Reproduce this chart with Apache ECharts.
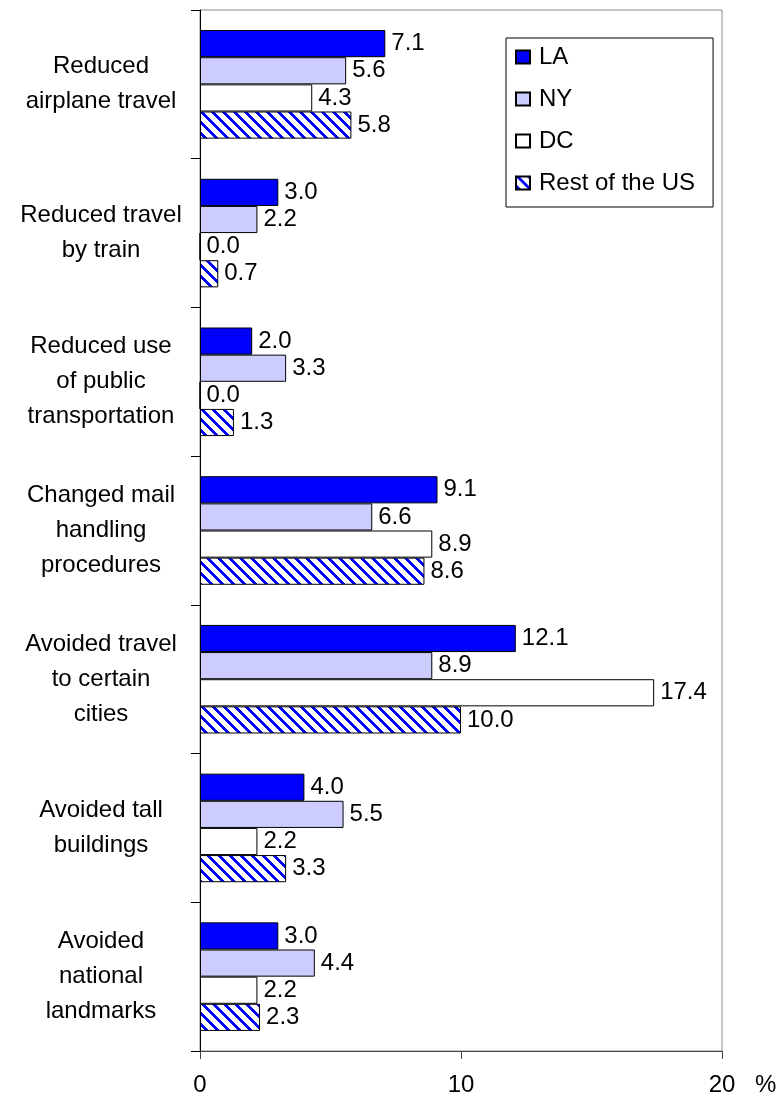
<!DOCTYPE html>
<html>
<head>
<meta charset="utf-8">
<script src="https://cdn.jsdelivr.net/npm/echarts@6/dist/echarts.min.js"></script>
<style>
  html, body { margin: 0; padding: 0; background: #fff; }
  #chart { width: 778px; height: 1102px; }
</style>
</head>
<body>
<div id="chart"></div>
<script>
var categories = [
  'Reduced\nairplane travel',
  'Reduced travel\nby train',
  'Reduced use\nof public\ntransportation',
  'Changed mail\nhandling\nprocedures',
  'Avoided travel\nto certain\ncities',
  'Avoided tall\nbuildings',
  'Avoided\nnational\nlandmarks'
];
var seriesNames = ['LA', 'NY', 'DC', 'Rest of the US'];
var laValues = [7.1, 3.0, 2.0, 9.1, 12.1, 4.0, 3.0];
var nyValues = [5.6, 2.2, 3.3, 6.6, 8.9, 5.5, 4.4];
var dcValues = [4.3, 0.0, 0.0, 8.9, 17.4, 2.2, 2.2];
var restValues = [5.8, 0.7, 1.3, 8.6, 10.0, 3.3, 2.3];
var xTicks = [0, 10, 20];

// diagonal hatch for "Rest of the US"
function makeHatch() {
  var p = 11, w = 4;
  var c = document.createElement('canvas');
  c.width = p; c.height = p;
  var ctx = c.getContext('2d');
  var img = ctx.createImageData(p, p);
  for (var y = 0; y < p; y++) {
    for (var x = 0; x < p; x++) {
      var i = (y * p + x) * 4;
      var blue = ((x - y) % p + p) % p < w;
      img.data[i] = blue ? 0 : 255;
      img.data[i + 1] = blue ? 0 : 255;
      img.data[i + 2] = 255;
      img.data[i + 3] = 255;
    }
  }
  ctx.putImageData(img, 0, 0);
  return c;
}

var font = 'Liberation Sans, Arial, sans-serif';
var fs = 24;
var fills = ['#0000ff', '#ccccff', '#ffffff', { image: makeHatch(), repeat: 'repeat' }];
var dataSets = [laValues, nyValues, dcValues, restValues];

var myChart = echarts.init(document.getElementById('chart'));

var series = dataSets.map(function (vals, k) {
  return {
    name: seriesNames[k],
    type: 'bar',
    data: vals,
    barGap: '0%',
    barCategoryGap: '27%',
    itemStyle: { color: fills[k], borderColor: '#000', borderWidth: 1 },
    label: {
      show: true,
      position: 'right',
      distance: 6,
      color: '#000',
      fontSize: fs,
      fontFamily: font,
      formatter: function (p) { return p.value.toFixed(1); }
    }
  };
});

var option = {
  animation: false,
  grid: {
    left: 200, right: 56, top: 10, bottom: 51,
    outerBoundsMode: 'none',
    show: true, borderColor: '#8c8c8c', borderWidth: 1, backgroundColor: '#fff'
  },
  legend: {
    orient: 'vertical',
    left: 506, top: 38,
    data: seriesNames,
    icon: 'rect',
    itemWidth: 14, itemHeight: 13,
    itemGap: 18,
    padding: [7, 18, 12, 9],
    borderColor: '#000', borderWidth: 1, backgroundColor: '#fff',
    textStyle: { fontSize: fs, fontFamily: font, color: '#000', lineHeight: 24, padding: [0, 0, 0, 4] }
  },
  xAxis: {
    type: 'value',
    min: xTicks[0], max: xTicks[xTicks.length - 1], interval: 10,
    name: '%',
    nameLocation: 'end',
    nameGap: 33,
    nameTextStyle: { fontSize: fs, fontFamily: font, color: '#000', verticalAlign: 'top', padding: [22, 0, 0, 0] },
    axisLine: { show: true, lineStyle: { color: '#444', width: 1 } },
    axisTick: { show: true, length: 8, lineStyle: { color: '#444' } },
    axisLabel: { fontSize: fs, fontFamily: font, color: '#000', margin: 22 },
    splitLine: { show: false }
  },
  yAxis: {
    type: 'category',
    inverse: true,
    data: categories,
    axisLine: { show: true, lineStyle: { color: '#000', width: 1 } },
    axisTick: { show: true, length: 9, alignWithLabel: false, lineStyle: { color: '#000' } },
    axisLabel: {
      fontSize: fs, fontFamily: font, color: '#000',
      align: 'center', margin: 99, lineHeight: 35
    }
  },
  series: series
};

myChart.setOption(option);
window.addEventListener('resize', function () { myChart.resize(); });
</script>
</body>
</html>
